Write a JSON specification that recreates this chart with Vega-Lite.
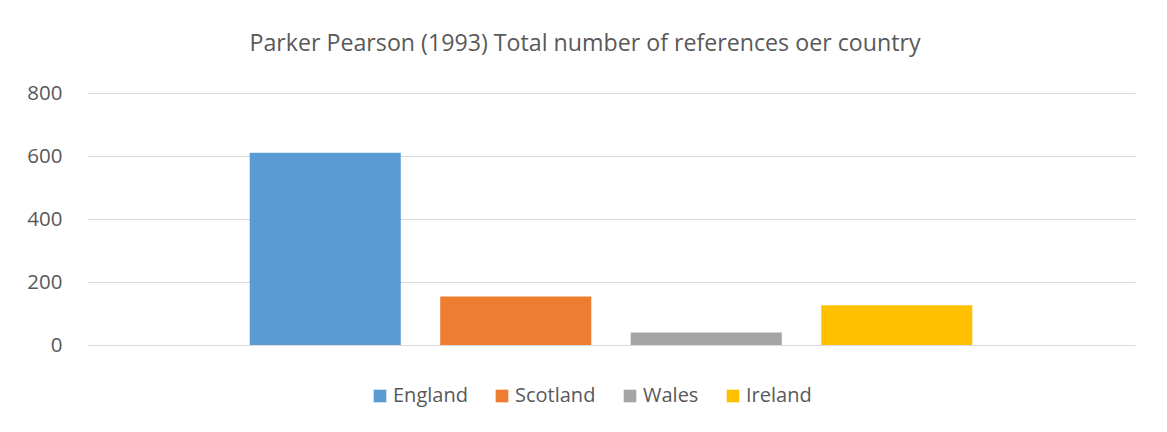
{
  "$schema": "https://vega.github.io/schema/vega-lite/v6.json",
  "autosize": "none",
  "width": 1048,
  "height": 252,
  "padding": {"left": 87, "top": 93, "right": 32, "bottom": 87},
  "background": "white",
  "title": {
    "text": "Parker Pearson (1993) Total number of references oer country",
    "font": "Open Sans",
    "fontSize": 23.2,
    "fontWeight": "normal",
    "color": "#595959",
    "anchor": "middle",
    "dx": -26,
    "offset": 27
  },
  "data": {
    "values": [
      {"country": "England", "refs": 610},
      {"country": "Scotland", "refs": 154},
      {"country": "Wales", "refs": 40},
      {"country": "Ireland", "refs": 126}
    ]
  },
  "mark": {"type": "bar"},
  "encoding": {
    "x": {
      "field": "country",
      "type": "nominal",
      "sort": ["England", "Scotland", "Wales", "Ireland"],
      "scale": {"paddingInner": 0.207, "paddingOuter": 0.854},
      "axis": null
    },
    "y": {
      "field": "refs",
      "type": "quantitative",
      "scale": {"domain": [0, 800], "nice": false},
      "axis": {
        "values": [0, 200, 400, 600, 800],
        "title": null,
        "ticks": false,
        "domain": false,
        "labelPadding": 25,
        "labelFont": "Open Sans",
        "labelFontSize": 20.5,
        "labelColor": "#595959",
        "gridColor": "#d9d9d9",
        "gridWidth": 1
      }
    },
    "color": {
      "field": "country",
      "type": "nominal",
      "sort": ["England", "Scotland", "Wales", "Ireland"],
      "scale": {
        "domain": ["England", "Scotland", "Wales", "Ireland"],
        "range": ["#5B9BD5", "#ED7D31", "#A5A5A5", "#FFC000"]
      },
      "legend": {
        "title": null,
        "orient": "none",
        "direction": "horizontal",
        "legendX": 283,
        "legendY": 293,
        "symbolType": "square",
        "symbolSize": 160,
        "symbolStrokeWidth": 0,
        "labelFont": "Open Sans",
        "labelFontSize": 20,
        "labelColor": "#595959",
        "labelOffset": 3,
        "columnPadding": 24
      }
    }
  },
  "config": {"view": {"stroke": null}}
}
